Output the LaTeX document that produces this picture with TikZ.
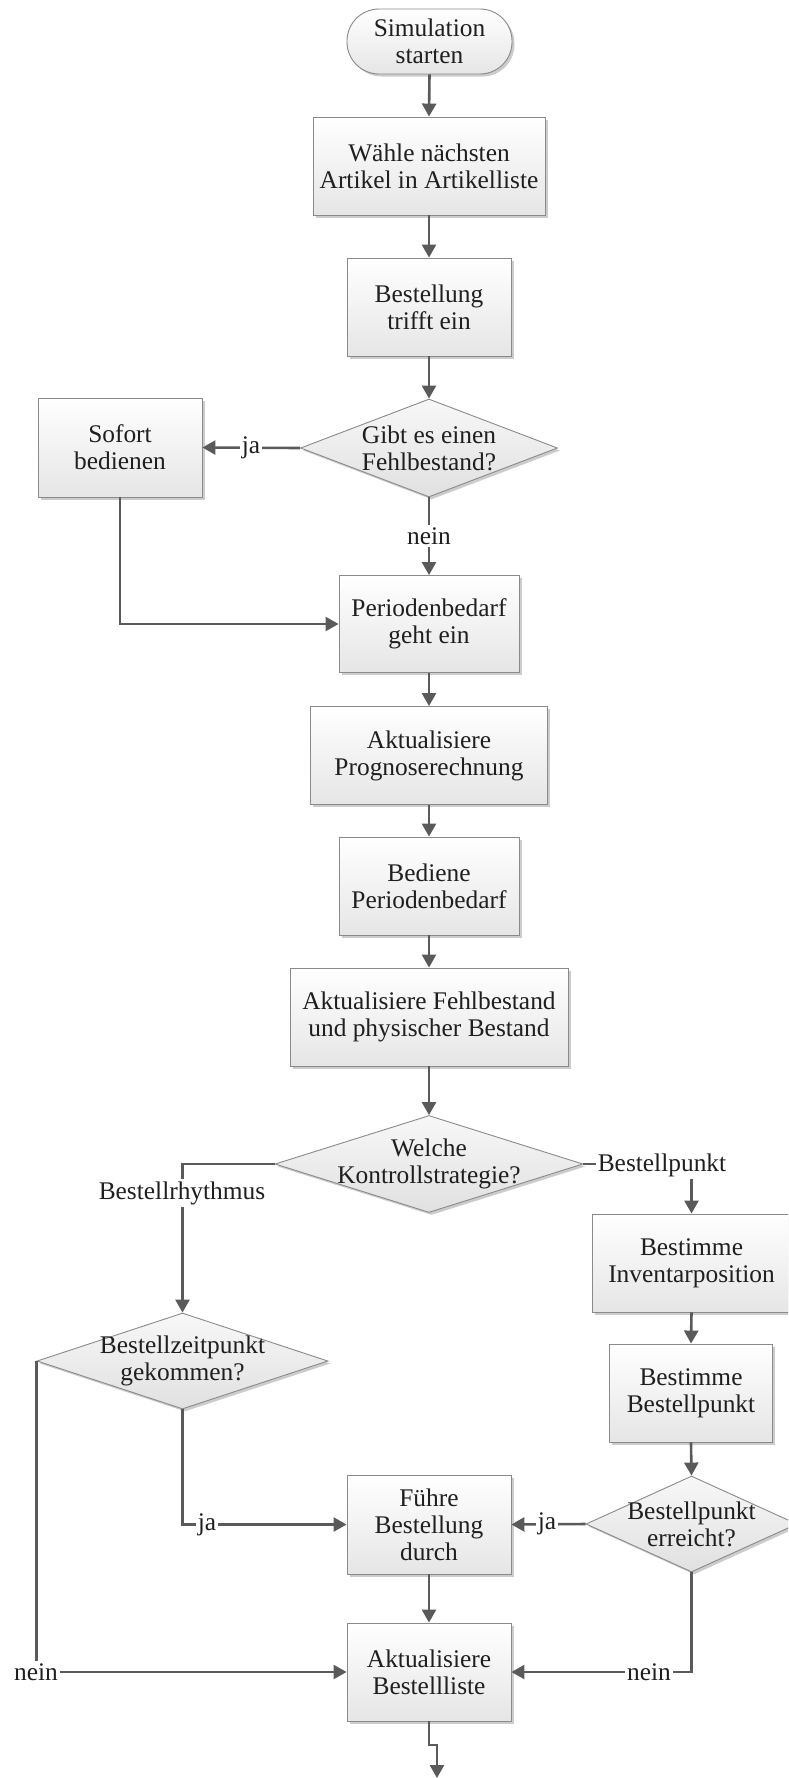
\documentclass[tikz,border=0pt]{standalone}
\usepackage{fontspec}
\setmainfont{Liberation Serif}
\usetikzlibrary{arrows.meta,shapes.geometric,shadows}
\definecolor{lc}{HTML}{5A5A5A}
\definecolor{bc}{HTML}{8A8A8A}
\begin{document}
\begin{tikzpicture}[x=1pt,y=-1pt,
  every node/.style={font=\fontsize{25.4}{27}\selectfont, text=black!88},
  shade/.style={drop shadow={shadow xshift=2.5pt,shadow yshift=-2.5pt,fill=black!20,opacity=1}},
  proc/.style={rectangle, draw=bc, line width=0.9pt, top color=white, bottom color=black!10, align=center, inner sep=0pt, shade},
  term/.style={proc, rounded corners=32pt},
  dec/.style={diamond, draw=bc, line width=0.9pt, top color=black!3, bottom color=black!12, inner sep=0pt, shade},
  txt/.style={align=center, inner sep=0pt},
  lab/.style={fill=white, inner sep=2pt},
  conn/.style={draw=lc, line width=2.6pt, -{Triangle[length=13pt,width=14pt]}}]
\useasboundingbox (0,0) rectangle (788,1778);
\clip (0,0) rectangle (788,1778);

% nodes
\node[term, minimum width=165pt, minimum height=65pt] (start) at (429.5,41.5) {Simulation\\starten};
\node[proc, minimum width=232pt, minimum height=98pt] (b1) at (429,166) {Wähle nächsten\\Artikel in Artikelliste};
\node[proc, minimum width=164pt, minimum height=98pt] (b2) at (429,307) {Bestellung\\trifft ein};
\node[dec, minimum width=257pt, minimum height=98pt] (d1) at (429,448) {};
\node[txt] (d1t) at (d1.center) {Gibt es einen\\Fehlbestand?};
\node[proc, minimum width=164pt, minimum height=99pt] (sofort) at (120,447.5) {Sofort\\bedienen};
\node[proc, minimum width=180pt, minimum height=97pt] (b3) at (429,624) {Periodenbedarf\\geht ein};
\node[proc, minimum width=237pt, minimum height=98pt] (b4) at (429,755.5) {Aktualisiere\\Prognoserechnung};
\node[proc, minimum width=180pt, minimum height=98pt] (b5) at (429,886) {Bediene\\Periodenbedarf};
\node[proc, minimum width=278pt, minimum height=98pt] (b6) at (429,1017) {Aktualisiere Fehlbestand\\und physischer Bestand};
\node[dec, minimum width=308pt, minimum height=97pt] (d2) at (429,1164) {};
\node[txt] (d2t) at (d2.center) {Welche\\Kontrollstrategie?};
\node[dec, minimum width=291pt, minimum height=96pt] (d3) at (182.5,1361) {};
\node[txt] (d3t) at (d3.center) {Bestellzeitpunkt\\gekommen?};
\node[proc, minimum width=199pt, minimum height=98pt] (inv) at (691.5,1263) {Bestimme\\Inventarposition};
\node[proc, minimum width=163pt, minimum height=98pt] (bp) at (691,1393) {Bestimme\\Bestellpunkt};
\node[dec, minimum width=211pt, minimum height=96pt] (d4) at (691.5,1524) {};
\node[txt] (d4t) at (d4.center) {Bestellpunkt\\erreicht?};
\node[proc, minimum width=164pt, minimum height=99pt] (fb) at (429,1524.5) {Führe\\Bestellung\\durch};
\node[proc, minimum width=164pt, minimum height=98pt] (bl) at (429,1672) {Aktualisiere\\Bestellliste};
\coordinate (jog) at (437,1745);
\coordinate (end) at (437,1778);

% connectors
\draw[conn] (start.south) -- (b1.north);
\draw[conn] (b1.south) -- (b2.north);
\draw[conn] (b2.south) -- (d1.north);
\draw[conn] (d1.west) -- (sofort.east);
\draw[conn] (d1.south) -- (b3.north);
\draw[conn] (sofort.south) |- (b3.west);
\draw[conn] (b3.south) -- (b4.north);
\draw[conn] (b4.south) -- (b5.north);
\draw[conn] (b5.south) -- (b6.north);
\draw[conn] (b6.south) -- (d2.north);
\draw[conn] (d2.west) -| (d3.north);
\draw[conn] (d2.east) -| (inv.north);
\draw[conn] (inv.south) -- (bp.north);
\draw[conn] (bp.south) -- (d4.north);
\draw[conn] (d3.south) |- (fb.west);
\draw[conn] (d4.west) -- (fb.east);
\draw[conn] (fb.south) -- (bl.north);
\draw[conn] (d3.west) |- (bl.west);
\draw[conn] (d4.south) |- (bl.east);
\draw[conn] (bl.south) |- (jog) -- (end);

% connector labels
\node[lab] (lja1) at (251,448) {ja};
\node[lab] (lnein1) at (429,536) {nein};
\node[lab] (lrh) at (182,1193) {Bestellrhythmus};
\node[lab] (lbp) at (662,1165) {Bestellpunkt};
\node[lab] (lja2) at (207,1525) {ja};
\node[lab] (lja3) at (547,1524) {ja};
\node[lab] (lnein2) at (36,1672) {nein};
\node[lab] (lnein3) at (649,1672) {nein};
\end{tikzpicture}
\end{document}
